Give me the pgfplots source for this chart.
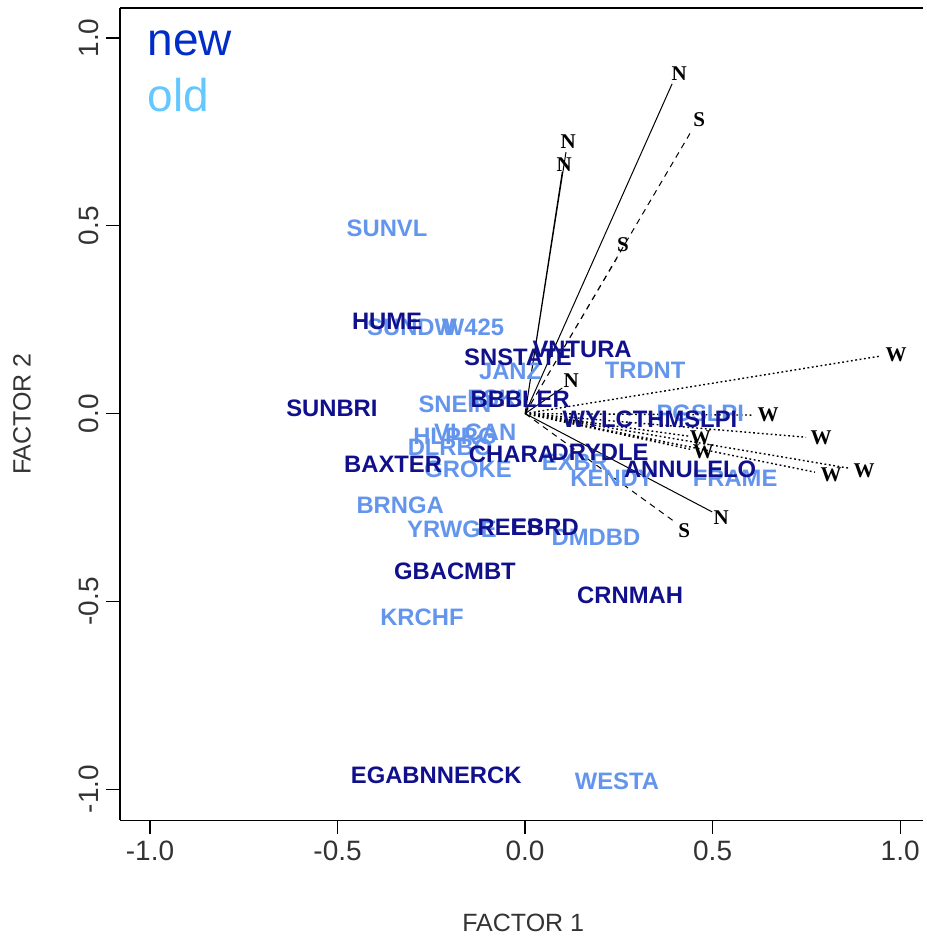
\documentclass[border=0pt]{standalone}
\usepackage{pgfplots}
\pgfplotsset{compat=1.18}
\usepackage{fontspec}
\setmainfont{Liberation Sans}
\newfontfamily\wordfont{Liberation Serif}

\definecolor{newc}{RGB}{16,16,140}
\definecolor{oldc}{RGB}{100,149,237}
\definecolor{newleg}{RGB}{0,45,200}
\definecolor{oldleg}{RGB}{100,200,255}

\begin{document}
\begin{tikzpicture}
\begin{axis}[
  scale only axis,
  width=401.5pt, height=406pt,
  xmin=-1.08, xmax=1.0613,
  ymin=-1.0826, ymax=1.0799,
  axis x line*=bottom, axis y line*=left,
  axis line style={-, line width=0.6pt},
  tick align=outside, major tick length=7pt,
  tick style={black, line width=0.6pt},
  xtick={-1,-0.5,0,0.5,1}, ytick={-1,-0.5,0,0.5,1},
  xticklabels={-1.0,-0.5,0.0,0.5,1.0},
  yticklabels={-1.0,-0.5,0.0,0.5,1.0},
  ticklabel style={font=\fontsize{14}{14}\selectfont, text=black!80},
  yticklabel style={rotate=90, anchor=south},
  xlabel={FACTOR 1}, ylabel={FACTOR 2},
  label style={font=\fontsize{12.5}{13}\selectfont, text=black!80},
  xlabel style={at={(axis description cs:0.502,-0.126)}, anchor=center},
  ylabel style={at={(axis description cs:-0.122,0.5)}, anchor=center},
  unbounded coords=jump,
  clip=false,
]
% old labels
\addplot[draw=none, mark=none, nodes near coords, point meta=explicit symbolic,
  nodes near coords align={center},
  every node near coord/.style={anchor=center, text=oldc, inner sep=0pt,
    font=\bfseries\fontsize{11.9}{12}\selectfont}]
  table[meta=lab] {
x y lab
-0.368 0.494 SUNVL
-0.301 0.230 SUNDW
-0.139 0.230 W425
-0.040 0.113 JANZ
0.320 0.116 TRDNT
-0.187 0.025 SNEIN
-0.080 0.040 ESKI
-0.133 -0.050 VLCAN
-0.187 -0.060 HLPRG
-0.200 -0.090 DLRBO
-0.152 -0.148 GROKE
0.133 -0.130 EXBR
0.232 -0.172 KENDY
0.560 -0.172 FRAME
0.467 0.000 PGSLPI
-0.333 -0.244 BRNGA
-0.195 -0.308 YRWGE
0.189 -0.329 DMDBD
-0.275 -0.542 KRCHF
0.245 -0.979 WESTA
};
% new labels
\addplot[draw=none, mark=none, nodes near coords, point meta=explicit symbolic,
  nodes near coords align={center},
  every node near coord/.style={anchor=center, text=newc, inner sep=0pt,
    font=\bfseries\fontsize{11.9}{12}\selectfont}]
  table[meta=lab] {
x y lab
-0.368 0.246 HUME
-0.019 0.150 SNSTATE
0.152 0.172 VNTURA
-0.013 0.039 BBBLER
-0.515 0.015 SUNBRI
0.333 -0.015 WYLCTHMSLPI
-0.035 -0.108 CHARA
0.200 -0.103 DRYDLE
-0.352 -0.135 BAXTER
0.440 -0.148 ANNULELO
-0.040 -0.302 REES
0.053 -0.302 EBRD
-0.187 -0.419 GBACMBT
0.280 -0.483 CRNMAH
-0.237 -0.963 EGABNNERCK
};
% loadings: N solid, S dashed, W dotted
\addplot[black, line width=0.5pt, mark=none] coordinates {
(0,0) (0.392,0.878) (nan,nan)
(0,0) (0.109,0.696) (nan,nan)
(0,0) (0.099,0.643) (nan,nan)
(0,0) (0.099,0.068) (nan,nan)
(0,0) (0.499,-0.262)
};
\addplot[black, line width=0.5pt, mark=none, dash pattern=on 3pt off 2.5pt] coordinates {
(0,0) (0.445,0.755) (nan,nan)
(0,0) (0.245,0.414) (nan,nan)
(0,0) (0.400,-0.289)
};
\addplot[black, line width=0.7pt, mark=none, dash pattern=on 0.9pt off 1.3pt] coordinates {
(0,0) (0.947,0.153) (nan,nan)
(0,0) (0.605,-0.004) (nan,nan)
(0,0) (0.749,-0.063) (nan,nan)
(0,0) (0.435,-0.060) (nan,nan)
(0,0) (0.440,-0.095) (nan,nan)
(0,0) (0.773,-0.156) (nan,nan)
(0,0) (0.861,-0.145)
};
\addplot[draw=none, mark=none, nodes near coords, point meta=explicit symbolic,
  nodes near coords align={center},
  every node near coord/.style={anchor=center, text=black, inner sep=0pt,
    font=\wordfont\bfseries\fontsize{10.5}{11}\selectfont}]
  table[meta=lab] {
x y lab
0.411 0.904 N
0.115 0.723 N
0.104 0.664 N
0.123 0.087 N
0.523 -0.278 N
0.464 0.782 S
0.261 0.451 S
0.424 -0.313 S
0.989 0.156 W
0.648 -0.004 W
0.789 -0.065 W
0.467 -0.065 W
0.475 -0.103 W
0.816 -0.164 W
0.904 -0.153 W
};
\node[anchor=base west, inner sep=0pt, text=newleg, font=\fontsize{23}{23}\selectfont]
  at (axis description cs:0.034,0.942) {new};
\node[anchor=base west, inner sep=0pt, text=oldleg, font=\fontsize{23}{23}\selectfont]
  at (axis description cs:0.034,0.872) {old};
% top frame line (the right side of the frame lies outside the picture)
\draw[line width=0.6pt] (rel axis cs:0,1) -- (rel axis cs:1,1);
\end{axis}
\path ([xshift=-60pt,yshift=4pt]current axis.north west) -- (current axis.north east);
\end{tikzpicture}
\end{document}
